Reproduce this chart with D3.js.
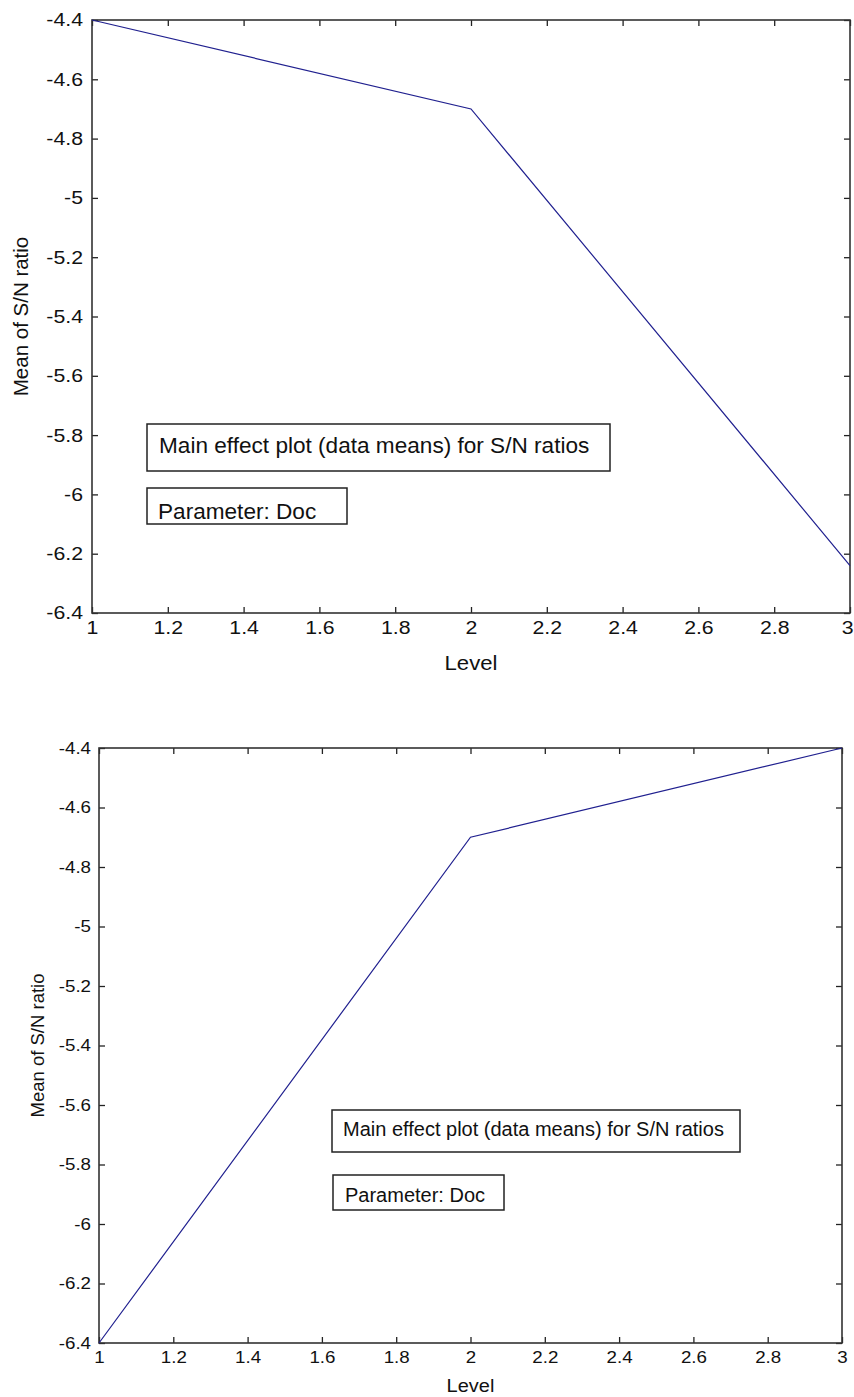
<!DOCTYPE html>
<html>
<head>
<meta charset="utf-8">
<script src="https://cdn.jsdelivr.net/npm/d3@7"></script>
<style>
  html, body { margin: 0; padding: 0; background: #fff; }
  svg { display: block; }
  text { font-family: "Liberation Sans", Arial, Helvetica, sans-serif; fill: #111; }
</style>
</head>
<body>
<svg id="chart" width="854" height="1397"></svg>
<script>
// ---- data ----
const levels = [1, 2, 3];
const snTop = [-4.4, -4.7, -6.24];
const snBottom = [-6.4, -4.7, -4.4];
const xTicks = [1, 1.2, 1.4, 1.6, 1.8, 2, 2.2, 2.4, 2.6, 2.8, 3];
const yTicks = [-6.4, -6.2, -6.0, -5.8, -5.6, -5.4, -5.2, -5.0, -4.8, -4.6, -4.4];
const xDomain = [1, 3];
const yDomain = [-6.4, -4.4];
const xLabel = "Level";
const yLabel = "Mean of S/N ratio";
const boxTitle = "Main effect plot (data means) for S/N ratios";
const boxParam = "Parameter: Doc";

const svg = d3.select("#chart");
const pageW = 854;

function panel(cfg) {
  const g = svg.append("g").attr("transform", `translate(${cfg.left},${cfg.top})`);
  const x = d3.scaleLinear().domain(xDomain).range([0, cfg.w]);
  const y = d3.scaleLinear().domain(yDomain).range([cfg.h, 0]);
  const stretch = 1.15;
  const fmt = d => String(+d.toFixed(1));

  // left axis
  const ax = g.append("g").call(d3.axisLeft(y).tickValues(yTicks).tickSize(-6).tickPadding(cfg.yPad).tickFormat(fmt));
  ax.selectAll("text").style("font-size", cfg.tick + "px")
    .attr("x", -cfg.yPad / stretch).attr("transform", `scale(${stretch},1)`);
  // bottom axis
  const bx = g.append("g").attr("transform", `translate(0,${cfg.h})`)
    .call(d3.axisBottom(x).tickValues(xTicks).tickSize(-6).tickPadding(cfg.xPad).tickFormat(fmt));
  bx.selectAll("text").style("font-size", cfg.tick + "px").attr("transform", `scale(${stretch},1)`)
    .each(function () {
      const bb = this.getBBox();
      const parentX = cfg.left + x(+this.__data__);
      const right = parentX + (bb.x + bb.width) * stretch;
      if (right > pageW - 1) d3.select(this).attr("x", (pageW - 1 - right) / stretch);
    });
  // top and right mirrored ticks
  g.append("g").call(d3.axisTop(x).tickValues(xTicks).tickSize(-6).tickFormat(""));
  g.append("g").attr("transform", `translate(${cfg.w},0)`)
    .call(d3.axisRight(y).tickValues(yTicks).tickSize(-6).tickFormat(""));
  g.selectAll(".domain").remove();
  g.selectAll(".tick line").attr("stroke", "#222").attr("stroke-width", 1.3);

  // box
  g.append("rect").attr("x", 0).attr("y", 0).attr("width", cfg.w).attr("height", cfg.h)
    .attr("fill", "none").attr("stroke", "#333").attr("stroke-width", 1.6);

  // line
  const line = d3.line().x((d, i) => x(levels[i])).y(d => y(d));
  g.append("path").datum(cfg.data).attr("d", line)
    .attr("fill", "none").attr("stroke", "#20208f").attr("stroke-width", 1.2);

  // annotation boxes
  cfg.boxes.forEach(b => {
    g.append("rect").attr("x", b.x).attr("y", b.y).attr("width", b.w).attr("height", b.h)
      .attr("fill", "#fff").attr("stroke", "#222").attr("stroke-width", 1.5);
    g.append("text").attr("x", b.x + b.tx).attr("y", b.y + b.ty)
      .style("font-size", cfg.boxFont + "px").text(b.text);
  });

  // axis labels
  g.append("text").attr("x", cfg.w / 2).attr("y", cfg.h + cfg.xLabY)
    .attr("text-anchor", "middle").style("font-size", cfg.lab + "px")
    .attr("transform", `translate(${cfg.w / 2},0) scale(1.08,1) translate(${-cfg.w / 2},0)`)
    .text(xLabel);
  g.append("text").attr("transform", `translate(${cfg.yLabX},${cfg.h / 2}) rotate(-90)`)
    .attr("text-anchor", "middle").style("font-size", cfg.lab + "px").text(yLabel);
}

panel({
  left: 92, top: 20, w: 758, h: 593, data: snTop,
  tick: 18.5, lab: 20.5, boxFont: 22.6, yPad: 9, xPad: 8, xLabY: 57, yLabX: -64,
  boxes: [
    { x: 55, y: 404, w: 463, h: 47, tx: 12, ty: 29, text: boxTitle },
    { x: 55, y: 468, w: 200, h: 36, tx: 11, ty: 31, text: boxParam }
  ]
});

panel({
  left: 99, top: 748, w: 743, h: 595, data: snBottom,
  tick: 16.3, lab: 18.5, boxFont: 20, yPad: 8, xPad: 8, xLabY: 49, yLabX: -55,
  boxes: [
    { x: 233, y: 362, w: 408, h: 42, tx: 11, ty: 26, text: boxTitle },
    { x: 234, y: 427, w: 171, h: 35, tx: 12, ty: 27, text: boxParam }
  ]
});
</script>
</body>
</html>
